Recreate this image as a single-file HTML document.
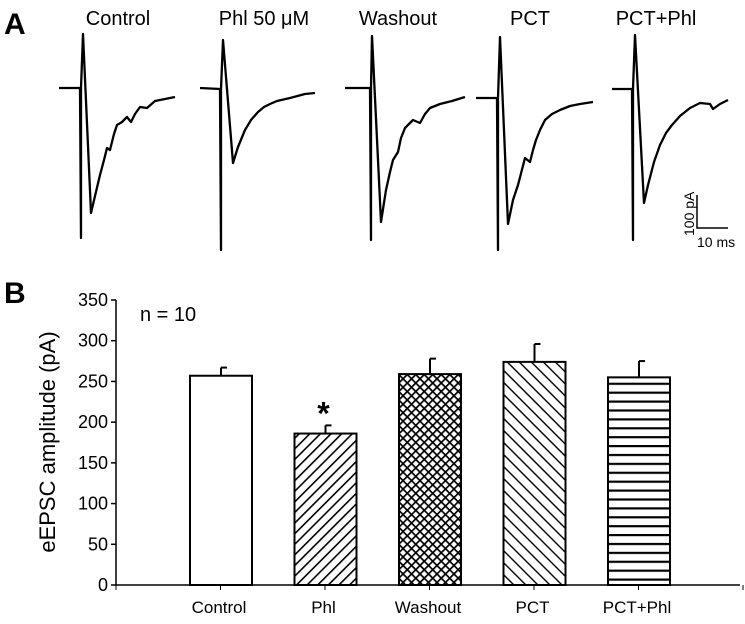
<!DOCTYPE html>
<html><head><meta charset="utf-8"><style>
body{margin:0;background:#fff;}
svg{display:block;font-family:"Liberation Sans",Arial,sans-serif;}
</style></head><body>
<svg id="fig" width="745" height="624" viewBox="0 0 745 624">
<defs>
<pattern id="pPhl" patternUnits="userSpaceOnUse" width="7.5" height="7.5" patternTransform="rotate(45)"><rect width="7.5" height="7.5" fill="#fff"/><line x1="0" y1="0" x2="0" y2="7.5" stroke="#000" stroke-width="3.2"/></pattern>
<pattern id="pWash" patternUnits="userSpaceOnUse" width="6" height="6" patternTransform="rotate(45)"><rect width="6" height="6" fill="#fff"/><line x1="0" y1="0" x2="0" y2="6" stroke="#000" stroke-width="3.4"/><line x1="0" y1="0" x2="6" y2="0" stroke="#000" stroke-width="3.4"/></pattern>
<pattern id="pPCT" patternUnits="userSpaceOnUse" width="8.5" height="8.5" patternTransform="rotate(-45)"><rect width="8.5" height="8.5" fill="#fff"/><line x1="0" y1="0" x2="0" y2="8.5" stroke="#000" stroke-width="2.8"/></pattern>
<pattern id="pHor" patternUnits="userSpaceOnUse" width="9" height="8.9"><rect width="9" height="8.9" fill="#fff"/><line x1="0" y1="1" x2="9" y2="1" stroke="#000" stroke-width="2.4"/></pattern>
</defs>
<text x="4" y="34" font-size="30" font-weight="bold">A</text>
<text x="4" y="303" font-size="30" font-weight="bold">B</text>
<g id="traces"></g>
<g>
<polyline points="697,195 697,228 728,228" fill="none" stroke="#000" stroke-width="1.5"/>
<text transform="translate(694,236) rotate(-90)" font-size="14">100 pA</text>
<text x="697" y="247" font-size="14">10 ms</text>
</g>
<g id="chart"></g>
</svg>
<script>
// ---- Panel A traces ----
const traceNames = ["Control","Phl 50 μM","Washout","PCT","PCT+Phl"];
const traceTitleX = [118,264,398,530,656];
const traceControl = [[59,88],[80,88],[81,238],[81,88],[83,34],[91,213],[95,196],[100,175],[104,160],[107,148],[110,150],[114,134],[117,125],[122,122],[127,117],[131,122],[135,114],[140,107],[147,108],[155,101],[165,99],[175,97]];
const tracePhl = [[200,88],[220,89],[221,250],[221,89],[223,40],[233,163],[238,147],[245,130],[251,120],[258,112],[264,107],[270,104],[277,101],[290,98],[305,94],[315,93]];
const traceWashout = [[345,88],[370,88],[371,240],[371,88],[372,36],[381,222],[386,190],[390,172],[393,160],[398,152],[401,138],[405,128],[413,120],[420,123],[425,114],[430,108],[440,104],[452,101],[465,97]];
const tracePCT = [[476,98],[497,98],[498,250],[498,98],[500,37],[508,224],[513,200],[518,185],[525,158],[530,162],[533,150],[536,140],[540,130],[545,120],[552,114],[560,110],[570,106],[580,104],[593,102]];
const tracePCTPhl = [[612,89],[632,89],[633,240],[633,89],[635,35],[644,203],[648,185],[654,162],[660,145],[666,133],[672,125],[680,116],[690,108],[700,103],[710,104],[713,109],[720,104],[728,100]];
const traces = [traceControl,tracePhl,traceWashout,tracePCT,tracePCTPhl];
const NS="http://www.w3.org/2000/svg";
const tg=document.getElementById('traces');
traces.forEach((t,i)=>{
  const pl=document.createElementNS(NS,'polyline');
  pl.setAttribute('points',t.map(p=>p.join(',')).join(' '));
  pl.setAttribute('fill','none');pl.setAttribute('stroke','#000');pl.setAttribute('stroke-width','2.3');pl.setAttribute('stroke-linejoin','round');
  
  
  tg.appendChild(pl);
  const tx=document.createElementNS(NS,'text');
  tx.setAttribute('x',traceTitleX[i]);tx.setAttribute('y',25);tx.setAttribute('text-anchor','middle');tx.setAttribute('font-size','20');
  tx.textContent=traceNames[i];
  
  
  tg.appendChild(tx);
});
// ---- Panel B bar chart ----
const categories = ["Control","Phl","Washout","PCT","PCT+Phl"];
const means = [257,186,259,274,255];
const errors = [10,10,19,22,20];
const yTicks = [0,50,100,150,200,250,300,350];
const fills = ["#fff","url(#pPhl)","url(#pWash)","url(#pPCT)","url(#pHor)"];
const x0=116,x1=740,y0=585,y1=300,yMax=350;
const ys=v=>y0-(v/yMax)*(y0-y1);
const step=104.5, firstC=221, bw=62;
const xc=i=>firstC+i*step;
const cg=document.getElementById('chart');
function el(tag,attrs){const e=document.createElementNS(NS,tag);for(const k in attrs)e.setAttribute(k,attrs[k]);cg.appendChild(e);return e;}
let ax=el('line',{x1:x0,y1:y0,x2:x0,y2:y1,stroke:'#000','stroke-width':1.5});


yTicks.forEach(v=>{
  el('line',{x1:x0-5,y1:ys(v),x2:x0,y2:ys(v),stroke:'#000','stroke-width':1.5});
  const t=el('text',{x:x0-8,y:ys(v)+6,'text-anchor':'end','font-size':18,transform:'',});
  t.textContent=v;
  
  
});
categories.forEach((c,i)=>{
  const x=xc(i);
  const top=ys(means[i]), etop=ys(means[i]+errors[i]);
  el('line',{x1:x,y1:top,x2:x,y2:etop,stroke:'#000','stroke-width':2});
  el('line',{x1:x,y1:etop,x2:x+6,y2:etop,stroke:'#000','stroke-width':2});
  const r=el('rect',{x:x-bw/2,y:top,width:bw,height:y0-top,fill:fills[i],stroke:'#000','stroke-width':2});
  
  
  const t=el('text',{x:x-2,y:613,'text-anchor':'middle','font-size':17});
  t.textContent=c;
  
  
});
for(let k=0;k<7;k++){const x=x0+k*step;el('line',{x1:x,y1:y0,x2:x,y2:y0+5,stroke:'#000','stroke-width':1});}
let xa=el('line',{x1:x0,y1:y0,x2:x1,y2:y0,stroke:'#000','stroke-width':1.5});


const star=el('text',{x:xc(1)-2,y:ys(means[1]+errors[1])-1,'text-anchor':'middle','font-size':32,'font-weight':'bold'});
star.textContent='*';


const n=el('text',{x:140,y:321,'font-size':20});
n.textContent='n = 10';


const yl=el('text',{transform:'translate(55,442) rotate(-90)','text-anchor':'middle','font-size':22});
yl.textContent='eEPSC amplitude (pA)';


</script>
</body></html>
